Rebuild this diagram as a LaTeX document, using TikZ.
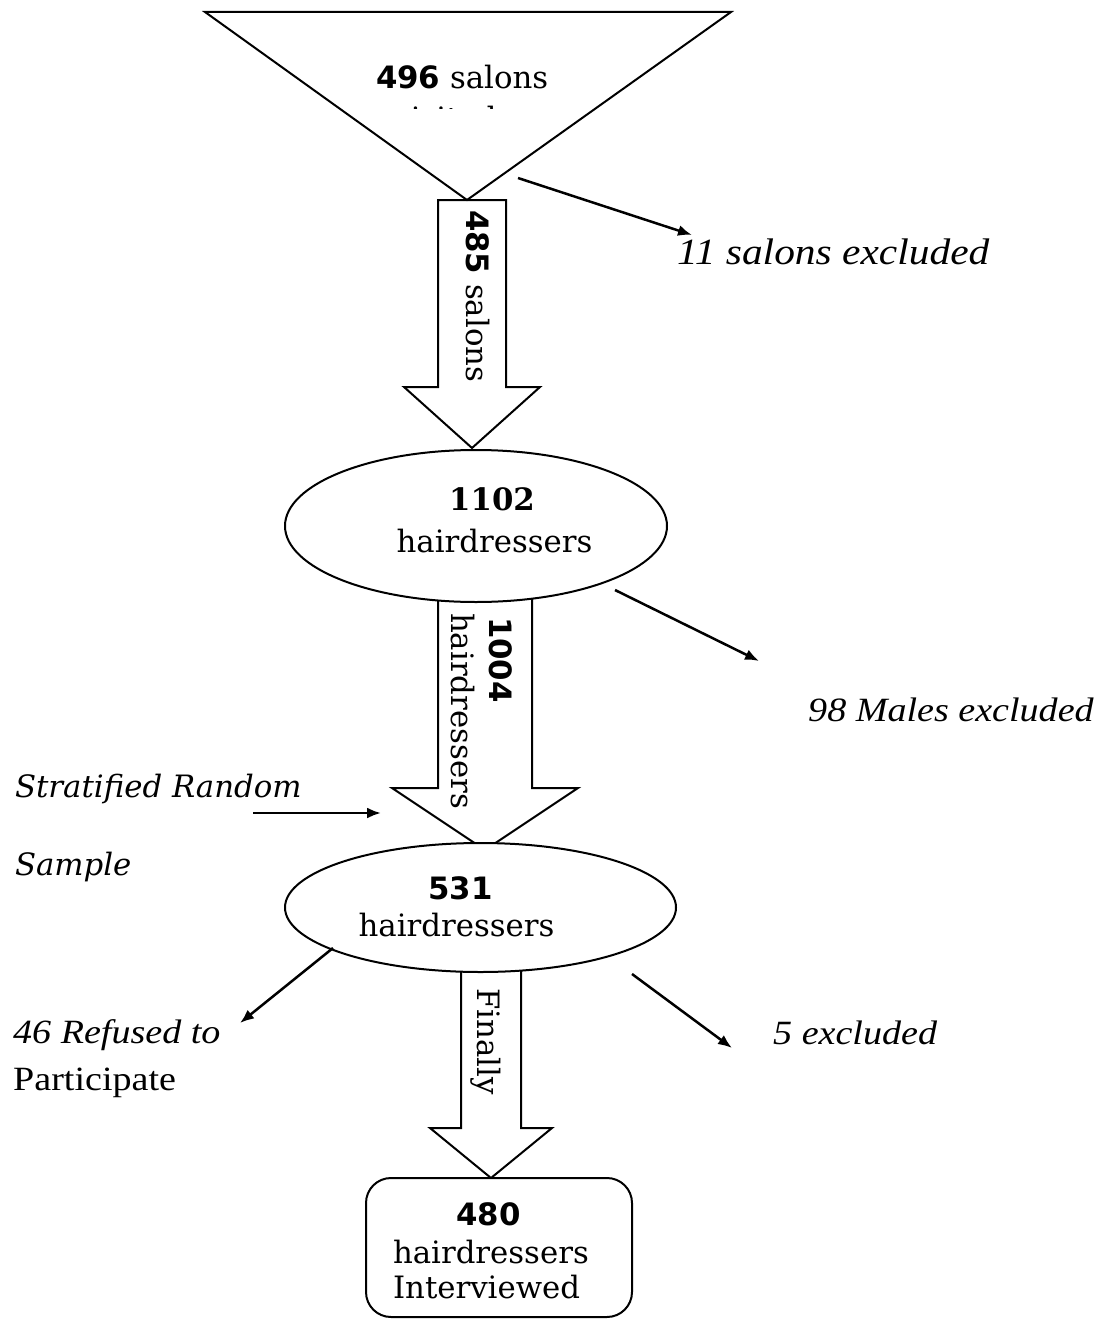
\documentclass[tikz,border=0pt]{standalone}
\usepackage{fontspec}
\setmainfont{DejaVu Serif}
\newfontfamily\dvsans{DejaVu Sans}
\newfontfamily\camfont{Liberation Serif}[FakeStretch=1.12]
\usetikzlibrary{shapes.geometric,arrows.meta}
\begin{document}
\begin{tikzpicture}[x=1pt,y=-1pt,
  txt/.style={font=\fontsize{30.8}{35}\selectfont, inner sep=0pt, outer sep=0pt},
  cam/.style={font=\camfont\itshape\fontsize{34}{40}\selectfont, inner sep=0pt, anchor=base west},
  camup/.style={font=\camfont\fontsize{34}{40}\selectfont, inner sep=0pt, anchor=base west},
  conn/.style={line width=2.5pt, -{Latex[length=14pt,width=11pt]}},
  outl/.style={draw, line width=2pt, fill=white, line join=miter},
  vert/.style={txt, rotate=-90, anchor=base west}]
\fill[white] (0,0) rectangle (1101,1319);
\useasboundingbox (0,0) rectangle (1101,1319);

% block arrows
\draw[outl] (438,200) -- (438,387) -- (404,387) -- (472,448) -- (540,387) -- (506,387) -- (506,200) -- cycle;
\draw[outl] (205,12) -- (731,12) -- (467,200) -- cycle;
\draw[outl] (438,590) -- (438,788) -- (392,788) -- (485,850) -- (578,788) -- (532,788) -- (532,590) -- cycle;
\draw[outl] (461,960) -- (461,1128) -- (430,1128) -- (491,1178) -- (552,1128) -- (521,1128) -- (521,960) -- cycle;

% shapes
\node[outl, ellipse, minimum width=382pt, minimum height=152pt, inner sep=0pt] (e1) at (476,526) {};
\node[outl, ellipse, minimum width=391pt, minimum height=129pt, inner sep=0pt] (e2) at (480.5,907.5) {};
\node[outl, rounded corners=25pt, minimum width=266pt, minimum height=139pt, inner sep=0pt] (box) at (499,1247.5) {};

% triangle text
\node[txt, anchor=base west] (t496) at (376,89) {{\dvsans\bfseries 496} salons};
\begin{scope}
\clip (300,95) rectangle (640,109);
\node[txt, anchor=base] (tvis) at (445,129) {visited};
\end{scope}

% arrow texts
\node[vert] (t485) at (466,210) {{\dvsans\bfseries 485} salons};
\node[vert] (t1004) at (489,617) {\dvsans\bfseries 1004};
\node[vert] (t1004b) at (451,613) {hairdressers};
\node[vert] (tfin) at (477,988) {Finally};

% ellipse texts
\node[txt, anchor=base] (t1102) at (492,510) {\bfseries 1102};
\node[txt, anchor=base] (t1102b) at (494.5,552) {hairdressers};
\node[txt, anchor=base] (t531) at (460.5,899) {\dvsans\bfseries 531};
\node[txt, anchor=base] (t531b) at (456.5,936) {hairdressers};

% box text
\node[txt, anchor=base] (t480) at (488.5,1225) {\dvsans\bfseries 480};
\node[txt, anchor=base west] (t480b) at (393,1263) {hairdressers};
\node[txt, anchor=base west] (t480c) at (393,1298) {Interviewed};

% side texts
\node[cam, font=\camfont\itshape\fontsize{37}{42}\selectfont] (x11) at (677,264) {11 salons excluded};
\node[cam] (x98) at (808,721) {98 Males excluded};
\node[txt, anchor=base west, font=\itshape\fontsize{30.8}{35}\selectfont] (srs1) at (15,797) {Stratified Random};
\node[txt, anchor=base west, font=\itshape\fontsize{30.8}{35}\selectfont] (srs2) at (15,875) {Sample};
\node[cam] (x46) at (13,1043) {46 Refused to};
\node[camup] (x46b) at (13,1090) {Participate};
\node[cam] (x5) at (773,1044) {5 excluded};

% connectors
\coordinate (c1s) at (518,178); \coordinate (c1e) at (692,235);
\coordinate (c2s) at (615,590); \coordinate (c2e) at (759,661);
\coordinate (c3s) at (253,813); \coordinate (c3e) at (381,813);
\coordinate (c4s) at (333,948); \coordinate (c4e) at (240,1023);
\coordinate (c5s) at (632,974); \coordinate (c5e) at (732,1048);
\draw[conn] (c1s) -- (c1e);
\draw[conn] (c2s) -- (c2e);
\draw[conn] (c3s) -- (c3e);
\draw[conn] (c4s) -- (c4e);
\draw[conn] (c5s) -- (c5e);
\end{tikzpicture}
\end{document}
